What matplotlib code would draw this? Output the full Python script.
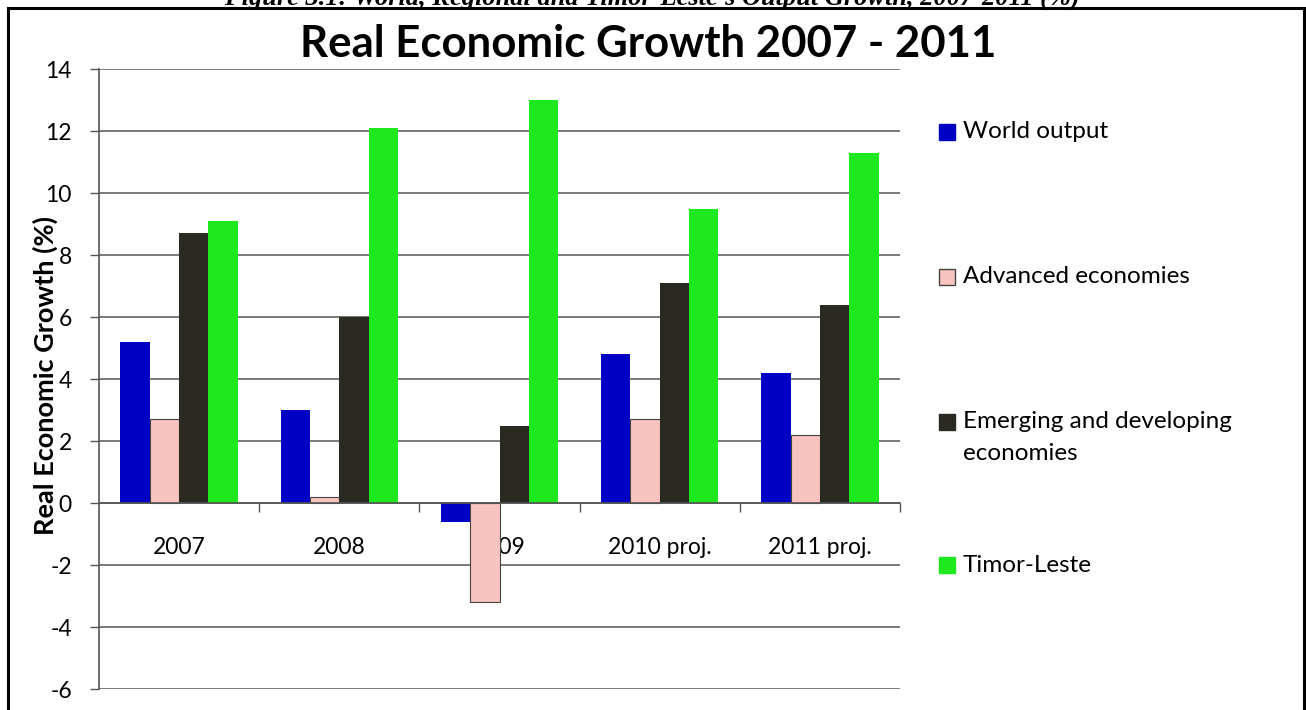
import numpy as np
import matplotlib
matplotlib.use("Agg")
import matplotlib.pyplot as plt
from matplotlib.patches import Rectangle

plt.rcParams["font.family"] = ["Lato", "DejaVu Sans"]

years = ["2007", "2008", "2009", "2010 proj.", "2011 proj."]
series_names = ["World output", "Advanced economies",
                "Emerging and developing\neconomies", "Timor-Leste"]
world_output = [5.2, 3.0, -0.6, 4.8, 4.2]
advanced = [2.7, 0.2, -3.2, 2.7, 2.2]
emerging = [8.7, 6.0, 2.5, 7.1, 6.4]
timor_leste = [9.1, 12.1, 13.0, 9.5, 11.3]
yticks = [-6, -4, -2, 0, 2, 4, 6, 8, 10, 12, 14]

COLORS = ["#0000c4", "#f9c4bf", "#2a2a22", "#1ee81e"]
EDGES = ["none", "#444444", "none", "none"]

W, H = 1306, 710
fig = plt.figure(figsize=(W / 100, H / 100), dpi=100)

# plot area in pixel coords
x0, x1, ytop, ybot = 99, 900, 69, 689
ax = fig.add_axes([x0 / W, 1 - ybot / H, (x1 - x0) / W, (ybot - ytop) / H])

x = np.arange(len(years))
bw = 0.183
all_vals = [world_output, advanced, emerging, timor_leste]
for i, vals in enumerate(all_vals):
    ax.bar(x + (i - 1.5) * bw, vals, width=bw, color=COLORS[i],
           edgecolor=EDGES[i], linewidth=0.8 if EDGES[i] != "none" else 0,
           zorder=3)

ax.set_xlim(-0.5, len(years) - 0.5)
ax.set_ylim(-6, 14)
ax.set_yticks(yticks)
ax.set_yticklabels([str(t) for t in yticks], fontsize=16.5)
ax.yaxis.grid(True, color="#707070", linewidth=1.3, zorder=0)
ax.tick_params(axis="y", length=6.5, width=1, color="#555555", pad=13)

for s in ["top", "right"]:
    ax.spines[s].set_visible(False)
ax.spines["left"].set_color("#555555")
ax.spines["left"].set_linewidth(1.2)
ax.spines["bottom"].set_position(("data", 0))
ax.spines["bottom"].set_color("#555555")
ax.spines["bottom"].set_linewidth(1.2)
ax.spines["bottom"].set_zorder(4)

ax.set_xticks(x)
ax.set_xticklabels(years, fontsize=16.5)
ax.set_xticks(np.arange(len(years)) + 0.5, minor=True)
ax.tick_params(axis="x", which="major", length=0, pad=24.5)
ax.tick_params(axis="x", which="minor", length=6.5, width=1, color="#555555")

ax.set_ylabel("Real Economic Growth (%)", fontsize=19.5, fontweight="bold")
ax.yaxis.set_label_coords((58 - x0) / (x1 - x0), (ybot - 375) / (ybot - ytop))

# chart title
fig.text(648 / W, 1 - 57 / H, "Real Economic Growth 2007 - 2011",
         ha="center", va="baseline", fontsize=31.5, fontweight="bold")

# truncated document caption above the box
fig.text(652 / W, 1 - 5 / H,
         "Figure 3.1: World, Regional and Timor-Leste's Output Growth, 2007-2011 (%)",
         ha="center", va="baseline", fontsize=19, fontweight="bold",
         fontstyle="italic", family=["Liberation Serif", "DejaVu Serif"])

# box around the chart
fig.patches.append(Rectangle((8 / W, -0.05), (1304 - 8) / W, 1 - 8 / H + 0.05,
                             transform=fig.transFigure, fill=False,
                             edgecolor="black", linewidth=2.2))

# legend, drawn by hand to match spacing
leg_y = [132, 277, 422, 565]
for i, name in enumerate(series_names):
    yc = 1 - leg_y[i] / H
    fig.patches.append(Rectangle((939 / W, yc - 8 / H), 16 / W, 16 / H,
                                 transform=fig.transFigure,
                                 facecolor=COLORS[i],
                                 edgecolor="#444444" if i == 1 else COLORS[i],
                                 linewidth=1))
    fig.text(963 / W, yc, name.split("\n")[0], ha="left", va="center",
             fontsize=17.5)
    if "\n" in name:
        fig.text(963 / W, yc - 32 / H, name.split("\n")[1], ha="left",
                 va="center", fontsize=17.5)

fig.savefig("out.png", dpi=100)
